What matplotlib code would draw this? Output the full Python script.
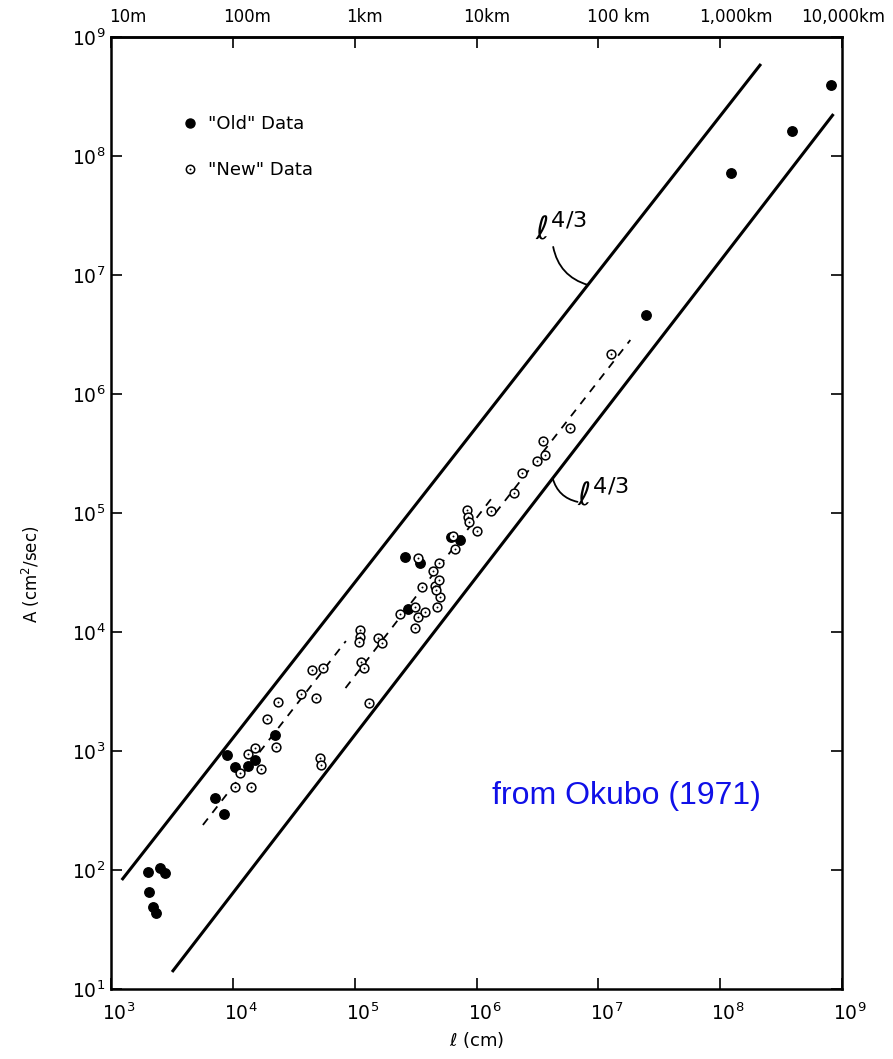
import numpy as np
import matplotlib
matplotlib.use("Agg")
import matplotlib.pyplot as plt
from matplotlib.ticker import FixedLocator, NullLocator, LogFormatterSciNotation
from matplotlib.lines import Line2D
import matplotlib.transforms as mtrans

# ---------------- data ----------------
old_l = [2000, 2510, 2800, 2040, 2230, 2360, 9000, 10470, 13370, 15290, 7140, 8450,
         22340, 260600, 346000, 621000, 736000, 274000, 2.44e7, 1.23e8, 3.85e8, 8.07e8]
old_A = [96, 104, 94, 65, 49, 43.5, 925, 735, 748, 840, 403, 296,
         1361, 42660, 38000, 62800, 59300, 15600, 4.61e6, 7.2e7, 1.62e8, 3.95e8]

new_l = [44500, 54700, 36100, 47700, 23300, 19200, 15300, 22700, 13400, 17100, 11500,
         10400, 14100, 52100, 53100, 110400, 110400, 108200, 155000, 167000, 112200,
         118800, 132000, 235600, 312000, 312600, 331000, 378000, 357000, 473000, 502000,
         457000, 466000, 493000, 441000, 494000, 333000, 670000, 647000, 1016000, 843000,
         859000, 876000, 1303000, 2050000, 2350000, 3120000, 3640000, 3510000, 5830000,
         12800000]
new_A = [4800, 4980, 3010, 2790, 2580, 1860, 1060, 1080, 945, 706, 653,
         498, 498, 873, 762, 10400, 9080, 8240, 8910, 8090, 5600,
         4980, 2530, 14200, 10800, 16200, 13370, 14730, 23900, 16200, 19700,
         24400, 22500, 27400, 32600, 38000, 41900, 49800, 64100, 70600, 106000,
         92500, 84000, 104000, 147000, 217000, 273000, 307000, 403000, 518000,
         2170000]

upper_l = [1225, 2.16e8]
upper_A = [82.4, 5.93e8]
lower_l = [3170, 8.51e8]
lower_A = [13.9, 2.25e8]

dash1_l = [5680, 84700]
dash1_A = [239, 8390]
dash2_l = [84100, 1.355e6]
dash2_A = [3380, 1.36e5]
dash3_l = [1.43e6, 1.83e7]
dash3_A = [1.0e5, 2.84e6]

x_ticks = [1e3, 1e4, 1e5, 1e6, 1e7, 1e8, 1e9]
y_ticks = [1e1, 1e2, 1e3, 1e4, 1e5, 1e6, 1e7, 1e8, 1e9]
top_labels = ["10m", "100m", "1km", "10km", "100 km", "1,000km", "10,000km"]

# ---------------- figure ----------------
plt.rcParams['font.family'] = ['DejaVu Sans']
plt.rcParams['mathtext.fontset'] = 'dejavusans'

fig = plt.figure(figsize=(8.93, 10.59), dpi=100)
ax = fig.add_axes([0.1243, 0.0661, 0.8186, 0.899])
ax.set_xscale('log')
ax.set_yscale('log')
ax.set_xlim(1e3, 1e9)
ax.set_ylim(1e1, 1e9)

lw_main = 2.2
ax.plot(upper_l, upper_A, color='black', lw=lw_main, solid_capstyle='butt')
ax.plot(lower_l, lower_A, color='black', lw=lw_main, solid_capstyle='butt')
for dl, dA in [(dash1_l, dash1_A), (dash2_l, dash2_A), (dash3_l, dash3_A)]:
    ax.plot(dl, dA, color='black', lw=1.3, dashes=(4.5, 4.0))

ax.plot(old_l, old_A, 'o', color='black', ms=6.8, mec='black', zorder=3)
ax.plot(new_l, new_A, 'o', mfc='white', mec='black', ms=6.3, mew=1.1, zorder=4)
ax.plot(new_l, new_A, 'o', color='black', ms=1.4, mew=0, zorder=5)

# annotations l^{4/3}
def on_line(lx, ly, l):
    return 10 ** np.interp(np.log10(l), np.log10(lx), np.log10(ly))

p_up = 8.2e6
ax.annotate('', xy=(p_up, on_line(upper_l, upper_A, p_up)), xytext=(4.26e6, 1.72e7),
            arrowprops=dict(arrowstyle='-', connectionstyle='arc3,rad=0.3', lw=1.3,
                            shrinkA=0, shrinkB=0, color='black'))
ax.text(3.0e6, 2.4e7, r'$\ell^{4/3}$', fontsize=23, ha='left', va='center')

p_lo = 4.22e6
ax.annotate('', xy=(p_lo, on_line(lower_l, lower_A, p_lo)), xytext=(6.75e6, 1.24e5),
            arrowprops=dict(arrowstyle='-', connectionstyle='arc3,rad=-0.3', lw=1.3,
                            shrinkA=0, shrinkB=0, color='black'))
ax.text(6.62e6, 1.38e5, r'$\ell^{4/3}$', fontsize=23, ha='left', va='center')

ax.text(0.521, 0.194, 'from Okubo (1971)', transform=ax.transAxes, color='#1010e8',
        fontsize=23, family=['Liberation Sans', 'DejaVu Sans'], ha='left', va='baseline')

# ticks
for sp in ax.spines.values():
    sp.set_linewidth(1.8)
ax.xaxis.set_major_locator(FixedLocator(x_ticks))
ax.yaxis.set_major_locator(FixedLocator(y_ticks))
ax.xaxis.set_minor_locator(NullLocator())
ax.yaxis.set_minor_locator(NullLocator())
ax.xaxis.set_major_formatter(LogFormatterSciNotation())
ax.yaxis.set_major_formatter(LogFormatterSciNotation())
ax.tick_params(axis='both', which='major', direction='in', length=8, width=1.2,
               labelsize=13.5, top=False, right=True)
ax.tick_params(axis='x', pad=10)
ax.tick_params(axis='y', pad=4)
for lab in ax.get_xticklabels():
    lab.set_transform(lab.get_transform() + mtrans.ScaledTranslation(0.08, 0, fig.dpi_scale_trans))

sec = ax.secondary_xaxis('top')
sec.xaxis.set_major_locator(FixedLocator(x_ticks))
sec.xaxis.set_minor_locator(NullLocator())
sec.set_xticklabels(top_labels)
sec.tick_params(direction='in', length=8, width=1.2, labelsize=12, pad=8)
sec.spines['top'].set_linewidth(1.8)
offsets = [17, 14, 10, 10, 20, 16, 1]
for lab, off in zip(sec.get_xticklabels(), offsets):
    lab.set_transform(lab.get_transform() + mtrans.ScaledTranslation(off / 100, 0, fig.dpi_scale_trans))

ax.set_xlabel(r'$\ell$ (cm)', fontsize=13, labelpad=4)
ax.set_ylabel(r'A (cm$^2$/sec)', fontsize=12)
ax.yaxis.set_label_coords(-0.095, 0.435)

# legend
h_old = Line2D([], [], ls='none', marker='o', color='black', ms=6.5)
h_ring = Line2D([], [], ls='none', marker='o', mfc='white', mec='black', ms=6, mew=1.1)
h_dot = Line2D([], [], ls='none', marker='o', color='black', ms=1.4, mew=0)
ax.legend([h_old, (h_ring, h_dot)], ['"Old" Data', '"New" Data'],
          loc='upper left', bbox_to_anchor=(0.0958, 0.918), frameon=False,
          fontsize=13, handlelength=1.0, handletextpad=0.5, labelspacing=1.55,
          borderpad=0, borderaxespad=0)

fig.savefig('out.png', dpi=100)
